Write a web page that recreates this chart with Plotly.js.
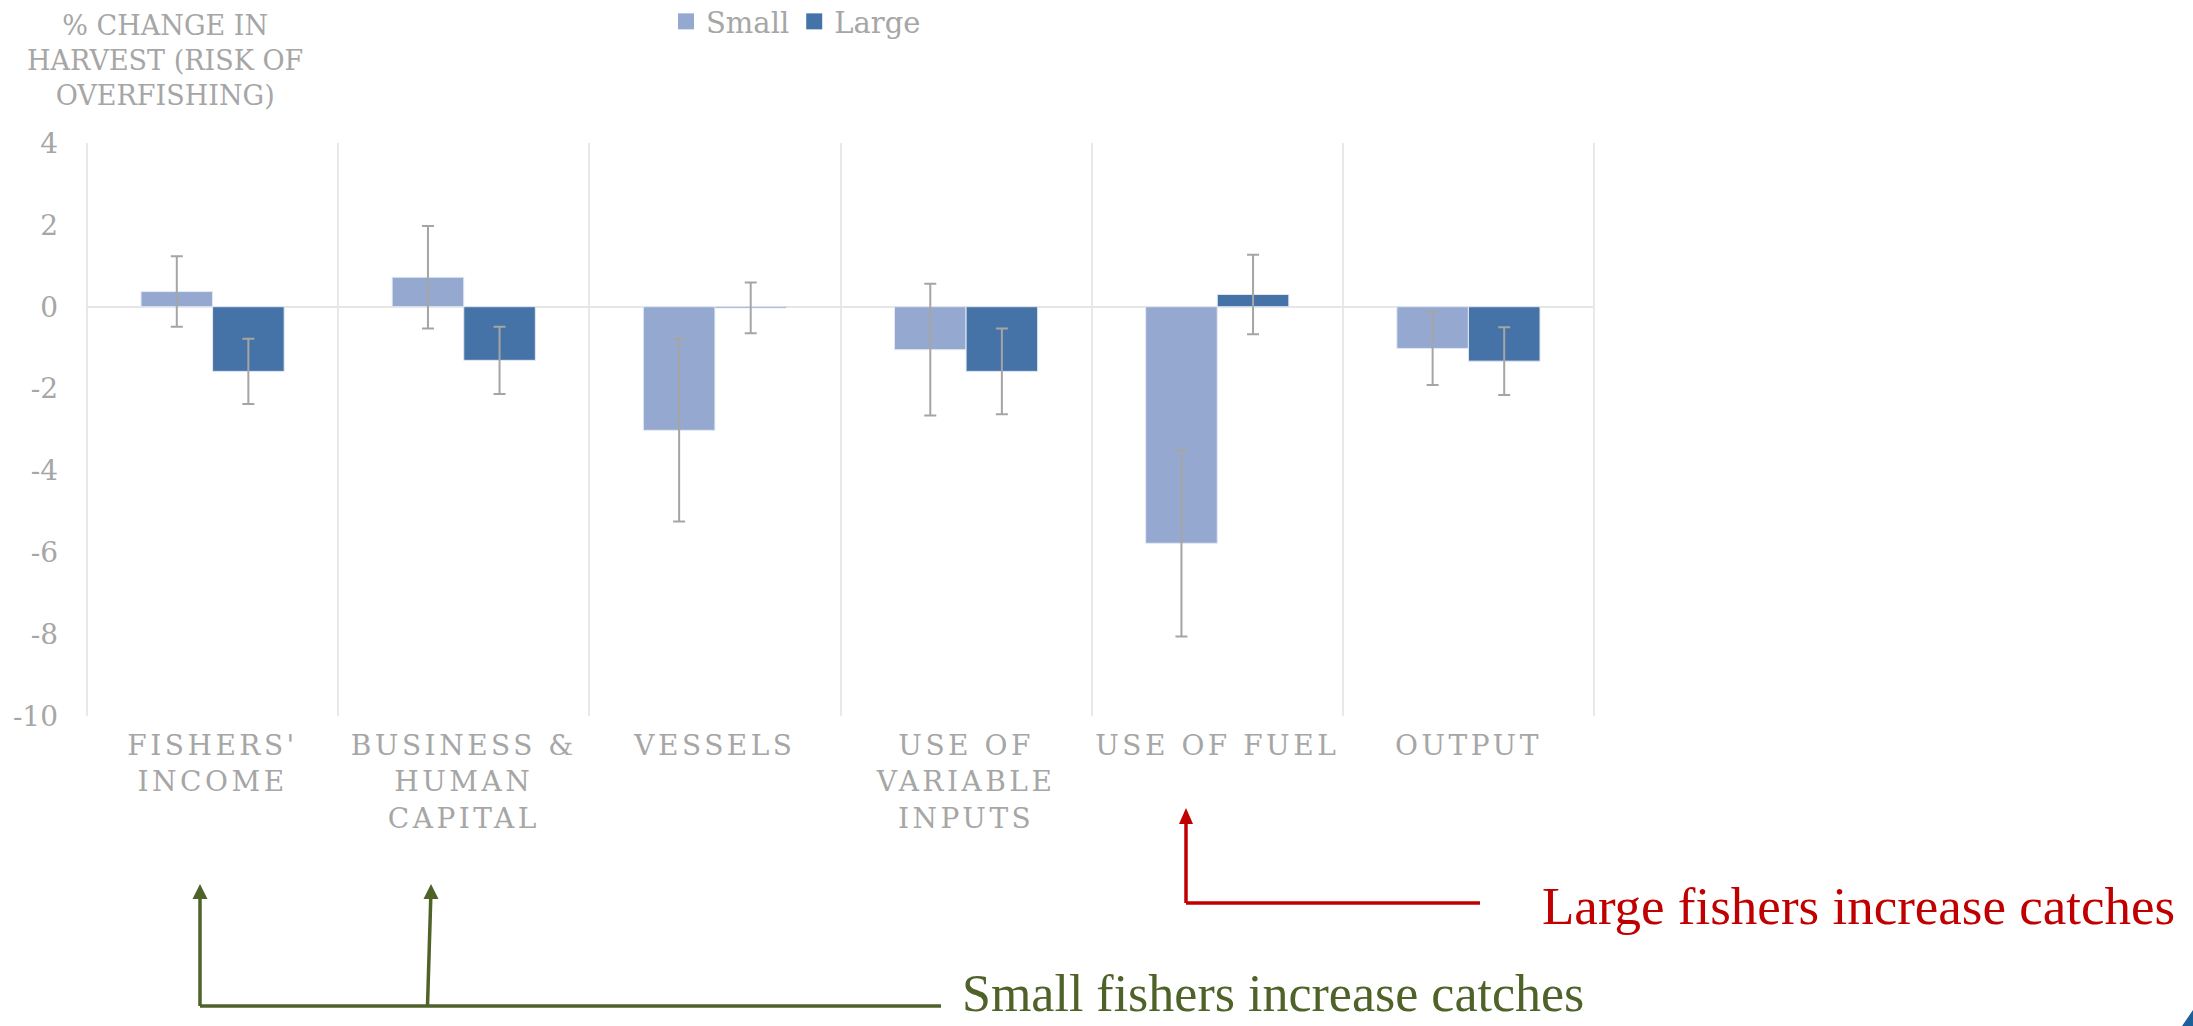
<!DOCTYPE html>
<html>
<head>
<meta charset="utf-8">
<script src="https://cdn.plot.ly/plotly-3.0.1.min.js"></script>
<style>
  html, body { margin: 0; padding: 0; background: #ffffff; }
  #chart { width: 2193px; height: 1026px; }
</style>
</head>
<body>
<div id="chart"></div>
<script>
// ---- data ----
const categories = ["FISHERS'<br>INCOME", "BUSINESS &<br>HUMAN<br>CAPITAL", "VESSELS", "USE OF<br>VARIABLE<br>INPUTS", "USE OF FUEL", "OUTPUT"];
const smallValues = [0.37, 0.72, -3.02, -1.05, -5.78, -1.02];
const smallErrors = [0.86, 1.25, 2.23, 1.61, 2.28, 0.89];
const largeValues = [-1.58, -1.31, -0.03, -1.58, 0.30, -1.33];
const largeErrors = [0.80, 0.82, 0.62, 1.05, 0.97, 0.83];
const yTickValues = [4, 2, 0, -2, -4, -6, -8, -10];
const seriesNames = ["Small", "Large"];
const yTitle = "% CHANGE IN<br>HARVEST (RISK OF<br>OVERFISHING)";
const noteLarge = "Large fishers increase catches";
const noteSmall = "Small fishers increase catches";

// ---- layout geometry (pixels) ----
const W = 2193, H = 1026;
const L = 87, R = 1594, T = 143, B = 716;
const PW = R - L, PH = B - T;
const px = v => (v - L) / PW;
const py = v => (B - v) / PH;

const gray = '#A6A6A6';
const red = '#C00000';
const green = '#4F6228';
const gridColor = '#E8E8E8';
const errStyle = { type: 'data', visible: true, color: '#A5A5A5', thickness: 2, width: 6 };

const traces = [
  {
    type: 'bar', name: seriesNames[0], x: categories, y: smallValues,
    marker: { color: '#95A9D0', line: { color: '#E3E9F3', width: 1 } },
    error_y: Object.assign({ array: smallErrors }, errStyle),
    hoverinfo: 'x+y'
  },
  {
    type: 'bar', name: seriesNames[1], x: categories, y: largeValues,
    marker: { color: '#4573A7', line: { color: '#E3E9F3', width: 1 } },
    error_y: Object.assign({ array: largeErrors }, errStyle),
    hoverinfo: 'x+y'
  }
];

function arrowHead(xTip, yTip, w, h, color) {
  return {
    type: 'path', xref: 'paper', yref: 'paper',
    path: `M ${px(xTip)} ${py(yTip)} L ${px(xTip - w / 2)} ${py(yTip + h)} L ${px(xTip + w / 2)} ${py(yTip + h)} Z`,
    fillcolor: color, line: { color: color, width: 0 }
  };
}
function seg(x0, y0, x1, y1, color) {
  return {
    type: 'line', xref: 'paper', yref: 'paper',
    x0: px(x0), y0: py(y0), x1: px(x1), y1: py(y1),
    line: { color: color, width: 3.5 }
  };
}

const shapes = [
  // plot edge gridlines (left and right boundaries)
  { type: 'line', xref: 'paper', yref: 'paper', x0: 0, x1: 0, y0: 0, y1: 1, layer: 'below', line: { color: gridColor, width: 2 } },
  { type: 'line', xref: 'paper', yref: 'paper', x0: 1, x1: 1, y0: 0, y1: 1, layer: 'below', line: { color: gridColor, width: 2 } },
  // red arrow (large fishers)
  seg(1186, 903, 1480, 903, red),
  seg(1186, 903, 1186, 822, red),
  arrowHead(1186, 808, 14, 16, red),
  // green arrows (small fishers)
  seg(200, 1006, 941, 1006, green),
  seg(200, 1006, 200, 897, green),
  arrowHead(200, 884, 15, 15, green),
  seg(427.5, 1006, 430.8, 897, green),
  arrowHead(431, 884, 15, 15, green),
  // small corner decoration
  {
    type: 'path', xref: 'paper', yref: 'paper',
    path: `M ${px(2193)} ${py(1010)} L ${px(2193)} ${py(1026)} L ${px(2182)} ${py(1026)} Z`,
    fillcolor: '#1F5F99', line: { width: 0 }
  }
];

const annotations = [
  {
    xref: 'paper', yref: 'paper', x: px(165), y: py(60),
    xanchor: 'center', yanchor: 'middle', align: 'center', showarrow: false,
    text: yTitle, font: { family: 'DejaVu Serif', size: 27, color: gray }
  },
  {
    xref: 'paper', yref: 'paper', x: px(1540), y: py(906),
    xanchor: 'left', yanchor: 'middle', showarrow: false,
    text: noteLarge, font: { family: 'Liberation Serif', size: 53, color: red }
  },
  {
    xref: 'paper', yref: 'paper', x: px(960), y: py(993),
    xanchor: 'left', yanchor: 'middle', showarrow: false,
    text: noteSmall, font: { family: 'Liberation Serif', size: 52, color: green }
  }
];

const layout = {
  width: W, height: H,
  margin: { l: L, r: W - R, t: T, b: H - B, pad: 0, autoexpand: false },
  paper_bgcolor: '#ffffff', plot_bgcolor: '#ffffff',
  font: { family: 'DejaVu Serif', color: gray, size: 26 },
  barmode: 'group', bargap: 0.43, bargroupgap: 0,
  showlegend: true,
  legend: {
    orientation: 'h', x: px(666), y: py(-4), xanchor: 'left', yanchor: 'top',
    font: { family: 'DejaVu Serif', size: 29, color: gray },
    bgcolor: 'rgba(0,0,0,0)', itemclick: false, itemdoubleclick: false
  },
  xaxis: {
    type: 'category', tickson: 'boundaries', showgrid: true,
    gridcolor: gridColor, gridwidth: 2, showline: false, zeroline: false,
    ticks: '', ticklabelstandoff: 10,
    tickfont: { family: 'DejaVu Serif', size: 28, color: gray },
    range: [-0.5, 5.5], fixedrange: true
  },
  yaxis: {
    range: [-10, 4], tickvals: yTickValues, ticktext: yTickValues.map(String),
    showgrid: false, zeroline: true, zerolinecolor: '#E6E6E6', zerolinewidth: 2,
    showline: false, ticks: '', ticklabelstandoff: 28,
    tickfont: { family: 'DejaVu Serif', size: 28, color: gray }, fixedrange: true
  },
  shapes: shapes,
  annotations: annotations
};

Plotly.newPlot('chart', traces, layout, { displayModeBar: false, staticPlot: true }).then(() => {
  document.querySelectorAll('.xtick text').forEach(t => { t.style.letterSpacing = '3.5px'; });
  document.querySelectorAll('.legend .legendpoints path').forEach(p => {
    p.setAttribute('d', 'M8,8H-8V-8H8Z');
    p.style.strokeWidth = '0px';
  });
});
</script>
</body>
</html>
